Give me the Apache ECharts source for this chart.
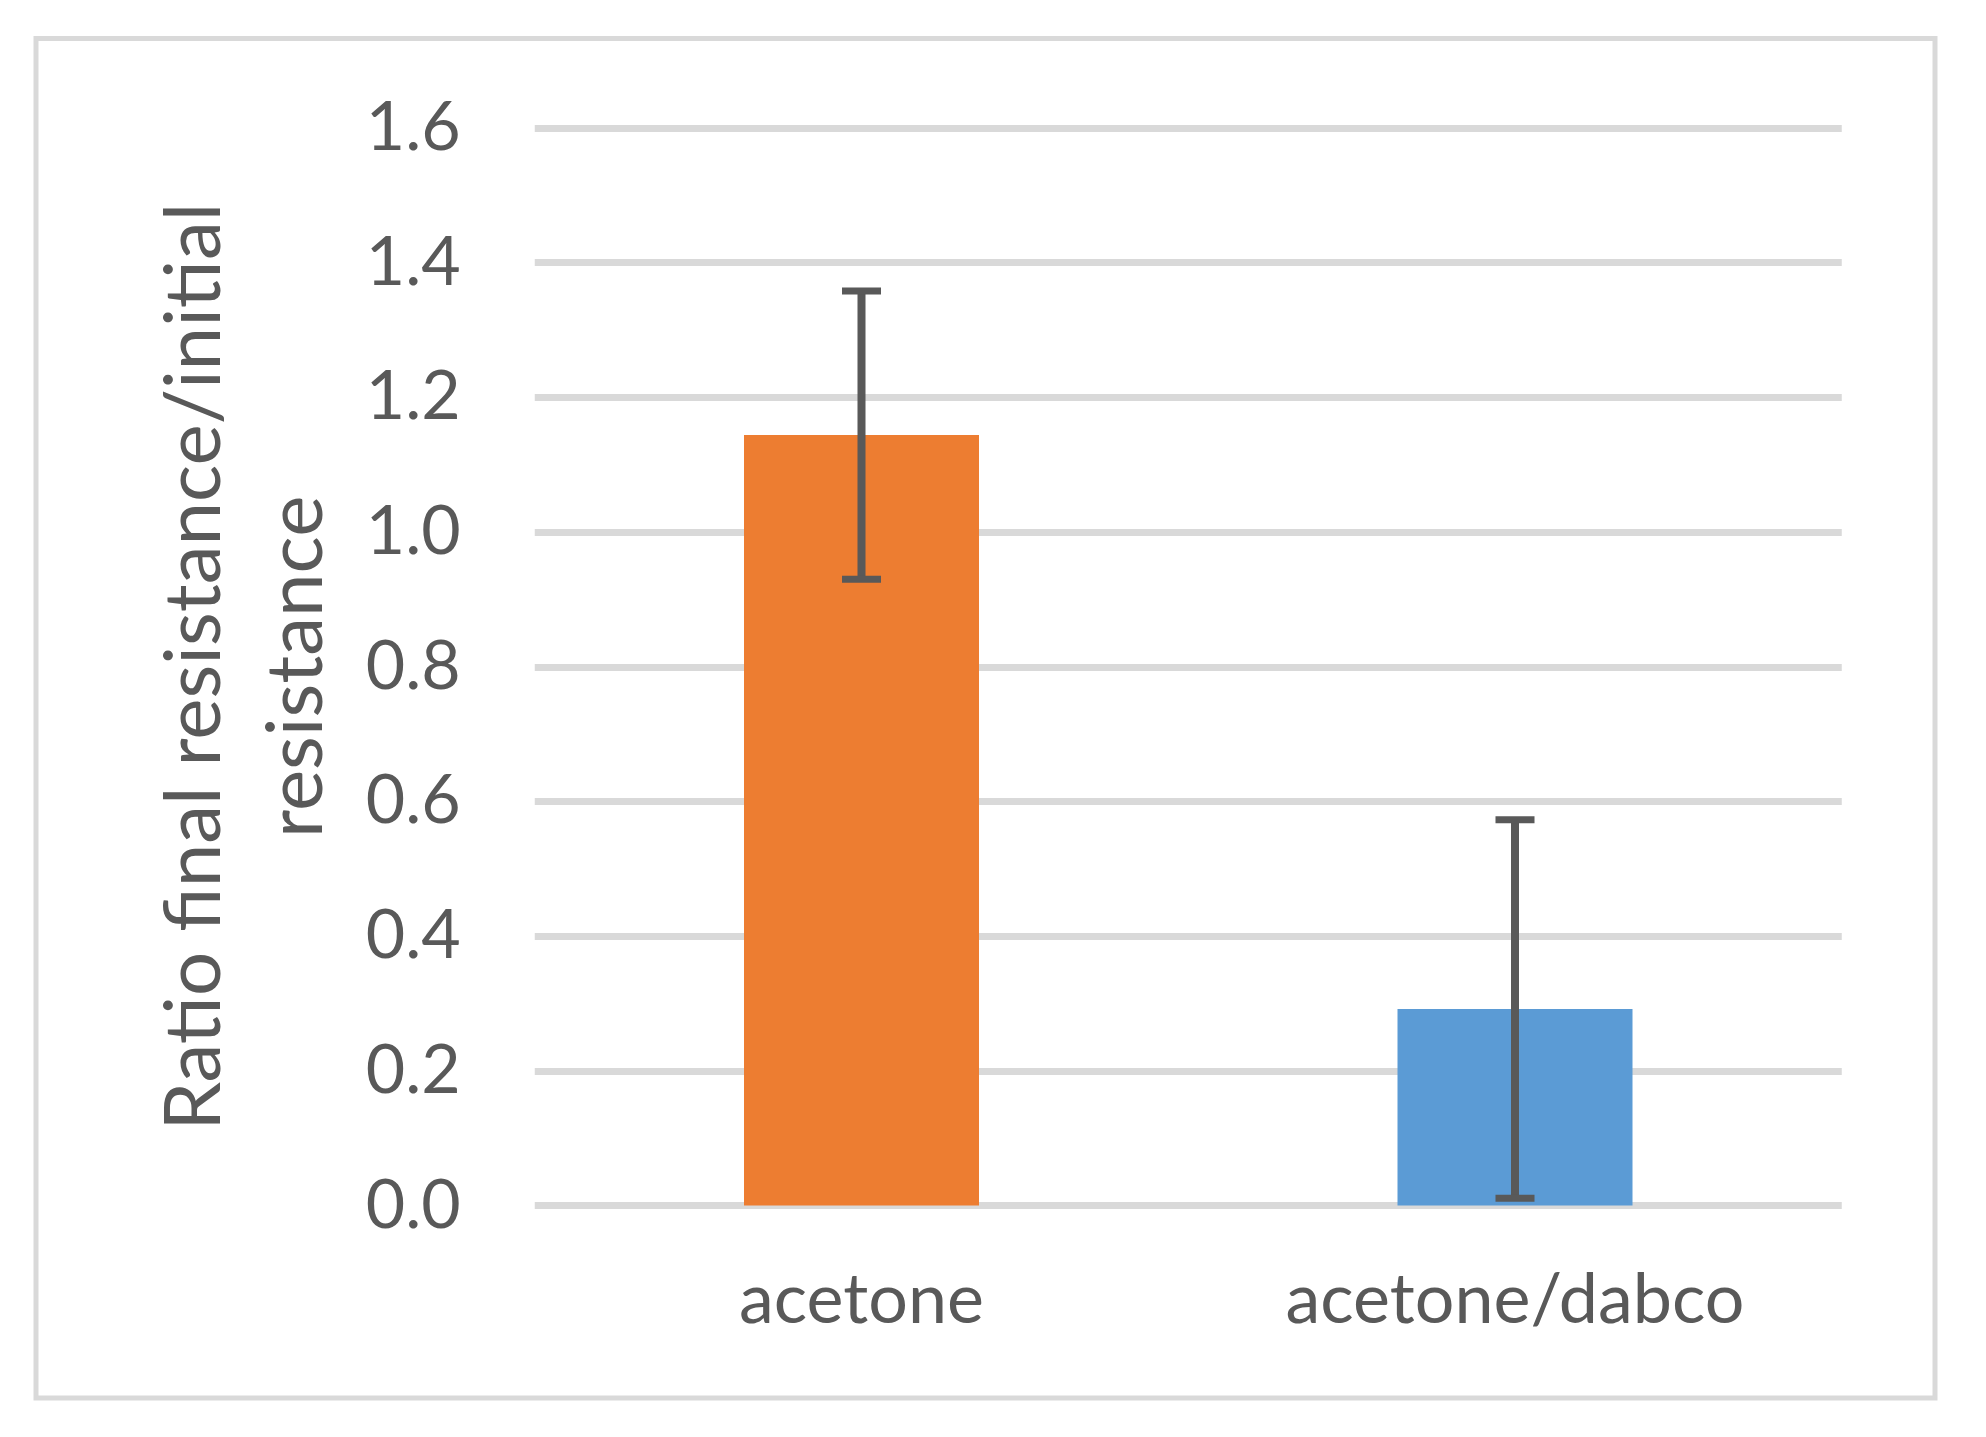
<!DOCTYPE html>
<html>
<head>
<meta charset="utf-8">
<script src="https://cdn.jsdelivr.net/npm/echarts@6/dist/echarts.min.js"></script>
<style>
html,body{margin:0;padding:0;background:#fff;}
#chart{width:1986px;height:1437px;}
</style>
</head>
<body>
<div id="chart"></div>
<script>
const categories = ['acetone', 'acetone/dabco'];
const means = [1.144, 0.292];
const errors = [0.214, 0.281];
const barColors = ['#ED7D31', '#5B9BD5'];
const yTicks = { min: 0, max: 1.6, interval: 0.2 };
const yTitle = 'Ratio final resistance/initial\nresistance';

const FONT = 'Lato, "Open Sans", sans-serif';
const TXT = '#595959';

const chart = echarts.init(document.getElementById('chart'), null, { renderer: 'canvas' });

const errData = means.map((m, i) => [i, m - errors[i], m + errors[i]]);

chart.setOption({
  animation: false,
  backgroundColor: '#ffffff',
  graphic: [{
    type: 'rect',
    shape: { x: 36, y: 38.5, width: 1899, height: 1359.5 },
    style: { fill: 'none', stroke: '#D9D9D9', lineWidth: 5 },
    silent: true
  }],
  grid: { left: 534.75, right: 144.25, top: 128, bottom: 231.4, containLabel: false },
  xAxis: {
    type: 'category',
    data: categories,
    axisLine: { show: false },
    axisTick: { show: false },
    axisLabel: { color: TXT, fontFamily: FONT, fontSize: 70, margin: 60 }
  },
  yAxis: {
    type: 'value',
    min: yTicks.min, max: yTicks.max, interval: yTicks.interval,
    name: yTitle,
    nameLocation: 'middle',
    nameRotate: 90,
    nameGap: 187,
    nameTextStyle: { color: TXT, fontFamily: FONT, fontSize: 78, lineHeight: 102 },
    axisLine: { show: false },
    axisTick: { show: false },
    splitLine: { lineStyle: { color: '#D9D9D9', width: 7 } },
    axisLabel: {
      color: TXT, fontFamily: FONT, fontSize: 68, margin: 74,
      formatter: v => v.toFixed(1)
    }
  },
  series: [{
    type: 'bar',
    barWidth: 235,
    data: means.map((v, i) => ({ value: v, itemStyle: { color: barColors[i] } }))
  }, {
    type: 'custom',
    data: errData,
    z: 10,
    renderItem: function (params, api) {
      const x = api.value(0);
      const lo = api.coord([x, api.value(1)]);
      const hi = api.coord([x, api.value(2)]);
      const half = 19.5;
      const style = { stroke: '#595959', lineWidth: 8, fill: null };
      const capStyle = { stroke: '#595959', lineWidth: 7, fill: null };
      return {
        type: 'group',
        children: [
          { type: 'line', shape: { x1: hi[0], y1: hi[1], x2: lo[0], y2: lo[1] }, style: style },
          { type: 'line', shape: { x1: hi[0] - half, y1: hi[1], x2: hi[0] + half, y2: hi[1] }, style: capStyle },
          { type: 'line', shape: { x1: lo[0] - half, y1: lo[1], x2: lo[0] + half, y2: lo[1] }, style: capStyle }
        ]
      };
    }
  }]
});
</script>
</body>
</html>
